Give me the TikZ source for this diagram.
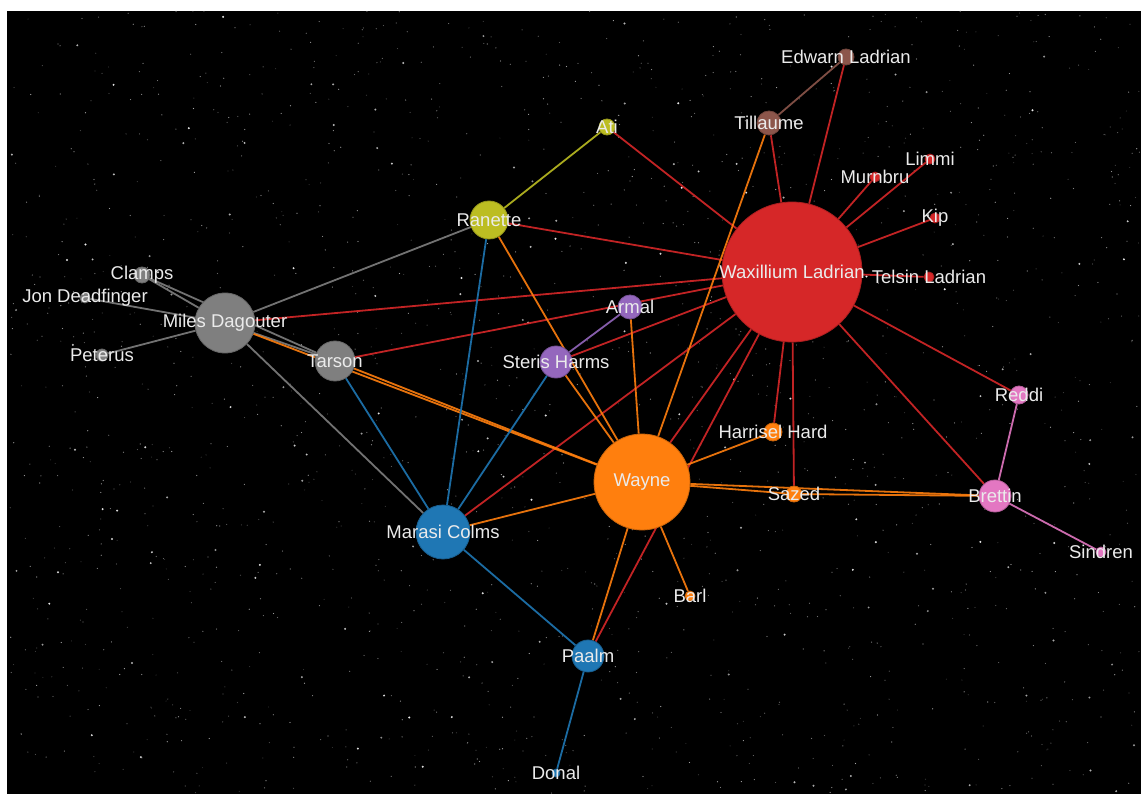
\documentclass[tikz,border=0pt]{standalone}
\usepackage{xcolor}
\usepackage{fontspec}
\setmainfont{Liberation Sans}
\usepackage{tikz}

\definecolor{wred}{HTML}{D62728}
\definecolor{worange}{HTML}{FF7F0E}
\definecolor{wgrey}{HTML}{7F7F7F}
\definecolor{wblue}{HTML}{1F77B4}
\definecolor{wolive}{HTML}{BCBD22}
\definecolor{wpurple}{HTML}{9467BD}
\definecolor{wbrown}{HTML}{8C564B}
\definecolor{wpink}{HTML}{E377C2}

\pgfdeclarelayer{sky}
\pgfdeclarelayer{links}
\pgfdeclarelayer{names}
\pgfsetlayers{sky,links,main,names}

\begin{document}
\begin{tikzpicture}[x=1pt, y=-1pt,
  person/.style={circle, fill=#1, draw=#1!80!black, line width=0.8pt, inner sep=0pt},
  lbl/.style={text=white!92!black, inner sep=0pt, font=\fontsize{18.5}{20}\selectfont},
  link/.style={draw=#1, line width=1.8pt, draw opacity=0.9}]

\useasboundingbox (0,0) rectangle (1141,794);

% night sky
\begin{pgfonlayer}{sky}
\fill[white] (0,0) rectangle (1141,794);
\fill[black] (7,11) rectangle (1141,794);
\pgfmathsetseed{4242}
\foreach \s in {1,...,1600}{
  \pgfmathsetmacro\sx{7+1134*rnd}
  \pgfmathsetmacro\sy{11+783*rnd}
  \pgfmathtruncatemacro\sb{18+50*rnd}
  \fill[white!\sb!black] (\sx,\sy) circle (0.6);
}
\foreach \s in {1,...,160}{
  \pgfmathsetmacro\sx{7+1134*rnd}
  \pgfmathsetmacro\sy{11+783*rnd}
  \pgfmathtruncatemacro\sb{55+40*rnd}
  \fill[white!\sb!black] (\sx,\sy) circle (1.1);
}
\end{pgfonlayer}

% people
\node[person=wred, minimum size=140pt] (wax) at (792,272) {};
\node[person=worange, minimum size=96pt] (wayne) at (642,482) {};
\node[person=wgrey, minimum size=60pt] (miles) at (225,323) {};
\node[person=wgrey, minimum size=40pt] (tarson) at (335,361) {};
\node[person=wgrey, minimum size=16pt] (clamps) at (142,275) {};
\node[person=wgrey, minimum size=10pt] (jon) at (85,298) {};
\node[person=wgrey, minimum size=12pt] (peterus) at (102,355) {};
\node[person=wblue, minimum size=54pt] (marasi) at (443,532) {};
\node[person=wblue, minimum size=32pt] (paalm) at (588,656) {};
\node[person=wblue, minimum size=8pt] (donal) at (556,773) {};
\node[person=wolive, minimum size=38pt] (ranette) at (489,220) {};
\node[person=wolive, minimum size=16pt] (ati) at (607,127) {};
\node[person=wpurple, minimum size=24pt] (armal) at (630,307) {};
\node[person=wpurple, minimum size=32pt] (steris) at (556,362) {};
\node[person=worange, minimum size=18pt] (harrisel) at (773,432) {};
\node[person=worange, minimum size=16pt] (sazed) at (794,494) {};
\node[person=worange, minimum size=10pt] (barl) at (690,596) {};
\node[person=wpink, minimum size=32pt] (brettin) at (995,496) {};
\node[person=wpink, minimum size=18pt] (reddi) at (1019,395) {};
\node[person=wpink, minimum size=10pt] (sindren) at (1101,552) {};
\node[person=wbrown, minimum size=24pt] (tillaume) at (769,123) {};
\node[person=wbrown, minimum size=16pt] (edwarn) at (846,57) {};
\node[person=wred, minimum size=10pt] (murnbru) at (875,177) {};
\node[person=wred, minimum size=10pt] (limmi) at (930,159) {};
\node[person=wred, minimum size=10pt] (kip) at (935,218) {};
\node[person=wred, minimum size=10pt] (telsin) at (929,277) {};

% names on top of everything
\begin{pgfonlayer}{names}
\foreach \n/\t in {wax/Waxillium Ladrian, wayne/Wayne, miles/Miles Dagouter, tarson/Tarson,
                   clamps/Clamps, jon/Jon Deadfinger, peterus/Peterus, marasi/Marasi Colms,
                   paalm/Paalm, donal/Donal, ranette/Ranette, ati/Ati, armal/Armal,
                   steris/Steris Harms, harrisel/Harrisel Hard, sazed/Sazed, barl/Barl,
                   brettin/Brettin, reddi/Reddi, sindren/Sindren, tillaume/Tillaume,
                   edwarn/Edwarn Ladrian, murnbru/Murnbru, limmi/Limmi, kip/Kip,
                   telsin/Telsin Ladrian}
  \node[lbl] (\n-name) at (\n) {\t};
\end{pgfonlayer}

% relations, coloured after the first person
\begin{pgfonlayer}{links}
\foreach \a/\b in {miles/clamps, miles/jon, miles/peterus, miles/tarson, clamps/tarson,
                   miles/ranette, miles/marasi}
  \draw[link=wgrey] (\a) -- (\b);
\foreach \a/\b in {wax/edwarn, wax/tillaume, wax/murnbru, wax/limmi, wax/kip, wax/telsin,
                   wax/reddi, wax/brettin, wax/sazed, wax/harrisel, wax/wayne, wax/paalm,
                   wax/marasi, wax/steris, wax/tarson, wax/miles, wax/ranette, wax/ati}
  \draw[link=wred] (\a) -- (\b);
\foreach \a/\b in {wayne/tillaume, wayne/ranette, wayne/armal, wayne/steris, wayne/tarson,
                   wayne/miles, wayne/marasi, wayne/paalm, wayne/barl, wayne/harrisel,
                   wayne/sazed, wayne/brettin, sazed/brettin}
  \draw[link=worange] (\a) -- (\b);
\foreach \a/\b in {marasi/ranette, marasi/tarson, marasi/steris, marasi/paalm, paalm/donal}
  \draw[link=wblue] (\a) -- (\b);
\draw[link=wolive] (ranette) -- (ati);
\draw[link=wpurple] (steris) -- (armal);
\draw[link=wbrown] (tillaume) -- (edwarn);
\draw[link=wpink] (brettin) -- (reddi);
\draw[link=wpink] (brettin) -- (sindren);
\end{pgfonlayer}

\end{tikzpicture}
\end{document}
